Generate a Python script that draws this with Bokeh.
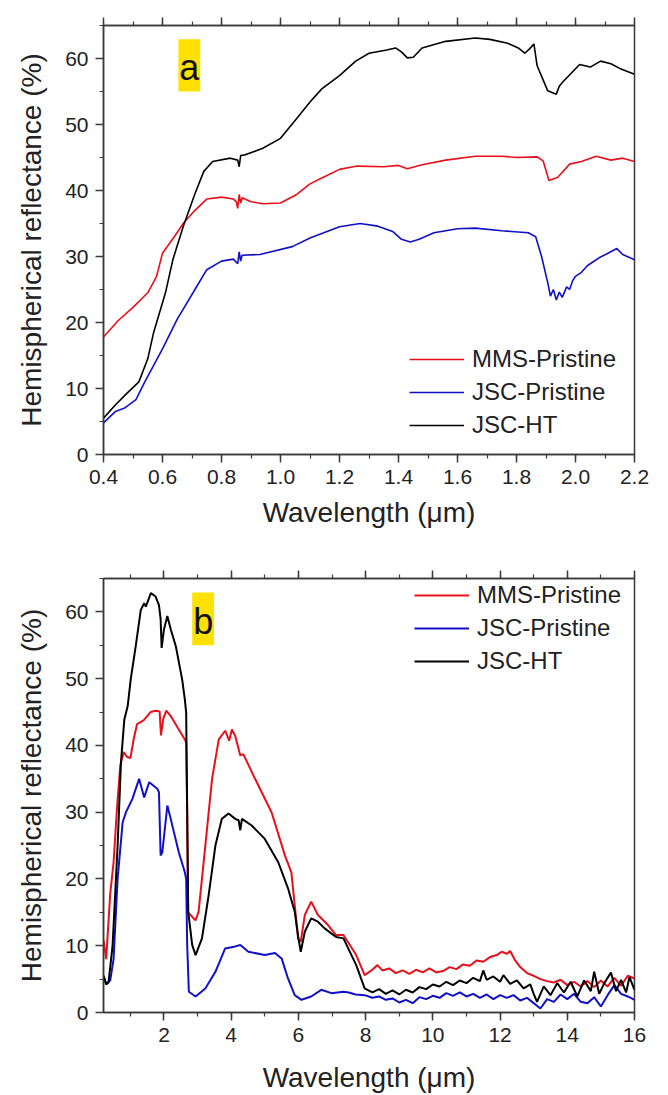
from bokeh.plotting import figure
from bokeh.models import (Range1d, LinearAxis, SingleIntervalTicker, PrintfTickFormatter,
                          Legend, LegendItem, BoxAnnotation, Label, CustomLabelingPolicy)
from bokeh.layouts import column
from bokeh.embed import file_html
from bokeh.resources import INLINE

# ---------------- data: panel a (0.4 - 2.2 um) ----------------
a_mms_x = [0.40, 0.45, 0.50, 0.55, 0.58, 0.60, 0.64, 0.67, 0.71, 0.75, 0.80, 0.84, 0.85, 0.855,
           0.86, 0.865, 0.87, 0.90, 0.94, 1.00, 1.055, 1.10, 1.14, 1.20, 1.26, 1.35, 1.40, 1.43,
           1.48, 1.56, 1.66, 1.75, 1.80, 1.87, 1.89, 1.91, 1.94, 1.98, 2.02, 2.07, 2.12, 2.16, 2.20]
a_mms_y = [17.8, 20.3, 22.3, 24.5, 27.0, 30.5, 33.0, 35.0, 37.0, 38.7, 39.0, 38.7, 38.3, 37.3,
           39.4, 38.1, 38.9, 38.3, 38.0, 38.1, 39.4, 41.0, 41.9, 43.2, 43.7, 43.6, 43.8, 43.3,
           43.9, 44.6, 45.2, 45.2, 45.0, 45.1, 44.5, 41.5, 42.0, 44.0, 44.4, 45.2, 44.6, 44.9, 44.4]

a_jsc_x = [0.40, 0.44, 0.47, 0.51, 0.54, 0.60, 0.65, 0.71, 0.75, 0.80, 0.84, 0.855, 0.86, 0.865,
           0.87, 0.93, 1.04, 1.10, 1.20, 1.27, 1.33, 1.38, 1.41, 1.44, 1.47, 1.52, 1.60, 1.66,
           1.75, 1.84, 1.865, 1.885, 1.906, 1.915, 1.925, 1.935, 1.945, 1.955, 1.97, 1.98, 1.99,
           2.00, 2.02, 2.04, 2.06, 2.08, 2.11, 2.14, 2.16, 2.20]
a_jsc_y = [4.8, 6.5, 7.0, 8.3, 11.0, 16.0, 20.5, 25.0, 28.0, 29.3, 29.6, 28.9, 30.7, 29.3,
           30.2, 30.3, 31.5, 32.8, 34.5, 35.0, 34.6, 33.8, 32.6, 32.2, 32.6, 33.6, 34.2, 34.3,
           33.9, 33.6, 33.0, 30.0, 26.0, 24.0, 25.0, 23.4, 24.6, 23.8, 25.4, 25.0, 26.3,
           27.0, 27.6, 28.6, 29.2, 29.8, 30.5, 31.2, 30.3, 29.5]

a_ht_x = [0.40, 0.44, 0.48, 0.52, 0.55, 0.57, 0.61, 0.635, 0.67, 0.71, 0.74, 0.77, 0.83, 0.855,
          0.86, 0.865, 0.88, 0.94, 1.00, 1.055, 1.10, 1.14, 1.20, 1.255, 1.30, 1.36, 1.39, 1.41,
          1.43, 1.45, 1.48, 1.56, 1.66, 1.71, 1.77, 1.806, 1.828, 1.845, 1.859, 1.87, 1.906,
          1.935, 1.945, 1.956, 2.014, 2.05, 2.085, 2.12, 2.15, 2.20]
a_ht_y = [5.5, 7.5, 9.3, 11.0, 14.5, 18.5, 24.5, 29.5, 34.5, 39.5, 42.9, 44.4, 44.9, 44.6,
          43.6, 45.3, 45.4, 46.4, 47.9, 50.9, 53.4, 55.4, 57.4, 59.6, 60.8, 61.3, 61.6, 61.0,
          60.1, 60.2, 61.6, 62.6, 63.1, 62.9, 62.3, 61.6, 60.8, 61.5, 62.2, 58.9, 55.1,
          54.6, 55.8, 56.4, 59.1, 58.7, 59.6, 59.2, 58.5, 57.6]

# ---------------- data: panel b (0.2 - 16 um) ----------------
b_mms_x = [0.20, 0.28, 0.40, 0.50, 0.60, 0.70, 0.80, 0.90, 1.00, 1.10, 1.20, 1.40, 1.60, 1.75,
           1.87, 1.91, 1.98, 2.07, 2.20, 2.44, 2.62, 2.66, 2.69, 2.72, 2.79, 2.94, 3.03, 3.23,
           3.43, 3.63, 3.82, 3.94, 4.02, 4.12, 4.27, 4.36, 4.71, 5.20, 5.60, 5.79, 5.99, 6.07,
           6.19, 6.38, 6.58, 6.88, 7.12, 7.34, 7.72, 7.97, 8.20, 8.35, 8.50, 8.70, 8.90, 9.10,
           9.30, 9.50, 9.70, 9.90, 10.1, 10.3, 10.5, 10.7, 10.9, 11.1, 11.3, 11.5, 11.7, 11.9,
           12.05, 12.2, 12.3, 12.45, 12.6, 12.8, 13.0, 13.2, 13.4, 13.6, 13.8, 14.0, 14.2, 14.4,
           14.6, 14.8, 15.0, 15.2, 15.4, 15.6, 15.8, 16.0]
b_mms_y = [10.8, 8.0, 17.8, 22.5, 30.5, 37.0, 39.0, 38.3, 38.1, 41.0, 43.2, 43.8, 45.0, 45.2,
           45.1, 41.5, 44.0, 45.2, 44.4, 42.4, 40.9, 40.4, 30.0, 15.0, 14.6, 13.8, 15.1, 25.0,
           35.0, 40.9, 42.2, 40.7, 42.4, 41.4, 38.5, 38.7, 35.0, 30.0, 23.5, 21.0, 11.1, 10.6,
           14.6, 16.6, 14.6, 13.1, 11.6, 11.6, 8.6, 5.6, 6.4, 7.1, 6.3, 6.6, 5.9, 6.3,
           5.8, 6.4, 6.0, 6.6, 6.0, 6.2, 6.8, 6.5, 7.2, 7.0, 7.8, 7.6, 8.3, 8.6,
           9.1, 8.8, 9.2, 7.8, 6.8, 5.9, 5.5, 5.0, 4.7, 4.5, 4.9, 4.1, 4.6, 3.9,
           4.7, 3.8, 4.8, 3.9, 5.2, 4.0, 5.5, 5.1]

b_jsc_x = [0.20, 0.28, 0.40, 0.50, 0.62, 0.77, 0.87, 1.06, 1.26, 1.41, 1.56, 1.80, 1.85, 1.90,
           1.95, 2.10, 2.20, 2.44, 2.62, 2.66, 2.69, 2.74, 2.94, 3.23, 3.53, 3.82, 4.12, 4.27,
           4.51, 5.00, 5.30, 5.50, 5.69, 5.89, 6.09, 6.38, 6.68, 6.98, 7.34, 7.50, 7.70, 7.97,
           8.2, 8.4, 8.6, 8.8, 9.0, 9.2, 9.4, 9.6, 9.8, 10.0, 10.2, 10.4, 10.6, 10.8, 11.0, 11.2,
           11.4, 11.6, 11.8, 12.0, 12.2, 12.4, 12.6, 12.8, 13.0, 13.2, 13.4, 13.6, 13.8, 14.0,
           14.2, 14.4, 14.6, 14.8, 15.0, 15.2, 15.4, 15.6, 15.8, 16.0]
b_jsc_y = [5.5, 4.3, 4.8, 8.0, 20.0, 28.5, 30.0, 32.0, 35.0, 32.2, 34.5, 33.5, 33.0, 23.5,
           24.0, 31.0, 29.0, 24.0, 21.0, 20.0, 10.1, 3.1, 2.4, 3.6, 6.1, 9.6, 9.9, 10.1,
           9.1, 8.6, 8.9, 8.1, 5.1, 2.6, 1.9, 2.4, 3.4, 2.9, 3.1, 3.0, 2.7, 2.6,
           2.2, 2.4, 1.9, 2.1, 1.5, 1.9, 1.4, 2.3, 2.0, 2.5, 2.2, 2.9, 2.5, 3.0, 2.4, 2.8,
           2.2, 2.7, 2.0, 2.6, 2.2, 2.6, 1.8, 2.2, 1.4, 0.6, 2.0, 1.6, 2.7, 2.0,
           2.8, 1.6, 1.4, 2.3, 0.9, 2.6, 4.1, 2.8, 2.4, 1.9]

b_ht_x = [0.20, 0.28, 0.35, 0.47, 0.62, 0.72, 0.82, 0.92, 1.01, 1.16, 1.31, 1.41, 1.46, 1.61,
          1.75, 1.85, 1.90, 1.93, 2.00, 2.10, 2.20, 2.35, 2.54, 2.62, 2.66, 2.69, 2.72, 2.84,
          2.94, 3.13, 3.33, 3.53, 3.72, 3.92, 4.12, 4.22, 4.27, 4.32, 4.61, 5.00, 5.40, 5.69,
          5.89, 6.00, 6.07, 6.19, 6.38, 6.58, 6.78, 7.12, 7.34, 7.72, 7.97, 8.2, 8.4, 8.6, 8.8,
          9.0, 9.2, 9.4, 9.6, 9.8, 10.0, 10.2, 10.4, 10.6, 10.8, 11.0, 11.2, 11.4, 11.5, 11.6,
          11.8, 12.0, 12.1, 12.3, 12.5, 12.7, 12.9, 13.0, 13.1, 13.3, 13.5, 13.7, 13.9, 14.1,
          14.3, 14.5, 14.7, 14.8, 14.95, 15.1, 15.3, 15.45, 15.6, 15.75, 15.85, 16.0]
b_ht_y = [5.5, 4.2, 4.5, 10.0, 25.0, 37.5, 43.9, 45.9, 49.9, 54.9, 60.3, 61.3, 60.8, 62.8,
          62.3, 61.0, 58.9, 54.6, 57.4, 59.4, 57.4, 54.9, 49.9, 46.9, 44.9, 30.0, 15.1, 10.1,
          8.6, 11.1, 17.6, 25.0, 29.0, 29.8, 29.0, 28.8, 27.3, 29.0, 28.0, 26.0, 22.5, 18.6,
          15.1, 11.1, 9.1, 12.1, 14.1, 13.6, 12.6, 11.3, 11.1, 7.1, 3.6, 3.0, 3.5, 2.8, 3.3,
          2.7, 3.4, 3.0, 3.8, 3.5, 4.2, 3.9, 4.6, 4.1, 4.8, 4.4, 5.2, 4.7, 6.3, 4.9,
          5.4, 4.6, 5.6, 4.3, 4.8, 3.6, 4.2, 2.8, 1.6, 3.9, 2.6, 4.4, 3.0, 4.6,
          2.4, 4.8, 3.2, 6.1, 2.8, 4.4, 6.0, 3.2, 4.9, 3.0, 5.3, 3.4]

series_names = ["MMS-Pristine", "JSC-Pristine", "JSC-HT"]
series_colors = ["#E8101A", "#1010C8", "#000000"]
x_title = "Wavelength (\u03bcm)"
y_title = "Hemispherical reflectance (%)"

FONT = "Liberation Sans"
AXC = "#3a3a3a"
TXT = "#222222"

HIDE_LABELS = "for (let i = 0; i < indices.size; i++) { indices.unset(i) } return indices"


def style_axis(ax, show_labels=True):
    ax.axis_line_color = AXC
    ax.axis_line_width = 1.5
    ax.major_tick_line_color = AXC
    ax.minor_tick_line_color = AXC
    ax.major_tick_line_width = 1.5
    ax.minor_tick_line_width = 1.2
    ax.major_tick_out = 8
    ax.major_tick_in = 0
    ax.minor_tick_out = 4
    ax.minor_tick_in = 0
    ax.major_label_text_font = FONT
    ax.major_label_text_color = TXT
    ax.major_label_text_font_size = "21px"
    if show_labels:
        ax.major_label_standoff = 7
    else:
        ax.major_label_standoff = 0
        ax.major_label_policy = CustomLabelingPolicy(code=HIDE_LABELS)
    ax.axis_label_text_font = FONT
    ax.axis_label_text_font_size = "28px"
    ax.axis_label_text_font_style = "normal"
    ax.axis_label_text_color = TXT


def panel(xs, ys, xr, xint, fmt, height, borders, legend_loc, tag, tag_box, tag_pos, lw, title_standoff):
    bl, br, bt, bb = borders
    p = figure(width=660, height=height, output_backend="svg", toolbar_location=None,
               x_range=Range1d(*xr), y_range=Range1d(0, 65),
               min_border_left=bl, min_border_right=br, min_border_top=bt, min_border_bottom=bb,
               x_axis_label=x_title, y_axis_label=y_title)
    p.grid.visible = False
    p.outline_line_color = AXC
    p.outline_line_width = 1.5
    p.background_fill_color = "white"
    p.border_fill_color = "white"

    p.xaxis.ticker = SingleIntervalTicker(interval=xint, num_minor_ticks=2)
    p.yaxis.ticker = SingleIntervalTicker(interval=10, num_minor_ticks=2)
    p.xaxis.formatter = PrintfTickFormatter(format=fmt)
    style_axis(p.xaxis[0])
    style_axis(p.yaxis[0])
    p.xaxis.axis_label_standoff = title_standoff
    p.yaxis.axis_label_standoff = 15

    top = LinearAxis(ticker=SingleIntervalTicker(interval=xint, num_minor_ticks=2),
                     formatter=PrintfTickFormatter(format=fmt))
    style_axis(top, show_labels=False)
    p.add_layout(top, "above")

    box = BoxAnnotation(left=tag_box[0], right=tag_box[1], bottom=tag_box[2], top=tag_box[3],
                        fill_color="#FFE100", fill_alpha=1.0, line_alpha=0, level="underlay")
    p.add_layout(box)
    p.add_layout(Label(x=tag_pos[0], y=tag_pos[1], text=tag, text_font=FONT,
                       text_font_size="36px", text_color="#111111",
                       text_align="center", text_baseline="middle"))

    items = []
    for x, y, name, col in zip(xs, ys, series_names, series_colors):
        r = p.line(x, y, line_color=col, line_width=lw)
        items.append(LegendItem(label=name, renderers=[r]))
    leg = Legend(items=items, location=legend_loc, padding=0, margin=0, spacing=5,
                 glyph_width=55, glyph_height=24, label_height=24, label_standoff=8,
                 border_line_alpha=0, background_fill_alpha=0,
                 label_text_font=FONT, label_text_font_size="24px", label_text_color=TXT)
    p.add_layout(leg)
    return p


pa = panel([a_mms_x, a_jsc_x, a_ht_x], [a_mms_y, a_jsc_y, a_ht_y], (0.4, 2.2), 0.2, "%.1f",
           548, (103, 20, 18, 94), (306, 15), "a", (0.654, 0.728, 55.0, 62.9), (0.691, 58.6), 1.6, 10)
pb = panel([b_mms_x, b_jsc_x, b_ht_x], [b_mms_y, b_jsc_y, b_ht_y], (0.2, 16.0), 2, "%d",
           547, (98, 26, 30, 81), (311, 337), "b", (2.84, 3.49, 55.0, 62.9), (3.17, 58.6), 2.0, 17)

layout = column(pa, pb, spacing=0)
open("out.html", "w").write(file_html(layout, INLINE))
